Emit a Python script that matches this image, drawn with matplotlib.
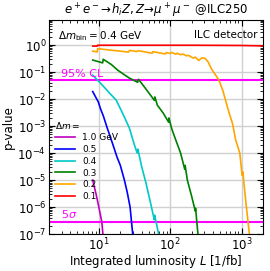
import matplotlib
matplotlib.use("Agg")
import matplotlib.pyplot as plt
import numpy as np

# p-value vs integrated luminosity, one curve per mass splitting
L_10 = [8.2, 9.2, 10.2, 11.0, 11.4]
p_10 = [1e-5, 2.8e-6, 7.6e-7, 2.8e-7, 1e-7]

L_05 = [8.2, 9.0, 9.8, 10.5, 11.4, 11.6, 13.0, 15.6, 18.0, 20.0, 22.8, 25.0, 27.4, 29.8]
p_05 = [0.019, 0.012, 8e-3, 4.5e-3, 2.6e-3, 2.3e-3, 9e-4, 2.2e-4, 7e-5, 3.5e-5, 1e-5, 3.5e-6, 1e-6, 1e-7]

L_04 = [8.2, 10, 12, 14, 17.5, 20.5, 24, 26.8, 31.5, 34.5, 35.2, 40, 45.8, 52, 59.8, 60.5, 64, 68.7]
p_04 = [0.077, 0.045, 0.027, 0.017, 9.2e-3, 3.9e-3, 1.6e-3, 8.4e-4, 2e-4, 1e-4, 1.4e-4, 3e-5, 7.7e-6,
        1.8e-6, 3.4e-7, 5e-7, 2.5e-7, 1e-7]

L_03 = [8.2, 11.3, 11.5, 15, 18.4, 22, 26.8, 35, 36, 45, 60, 61, 66, 80, 95, 96, 105, 120, 140,
        160, 162, 174, 200, 225, 227, 245]
p_03 = [0.28, 0.22, 0.30, 0.19, 0.118, 0.085, 0.06, 0.042, 0.054, 0.025, 9e-3, 0.012, 6e-3, 3e-3,
        1.4e-3, 2e-3, 8e-4, 3e-4, 1e-4, 2.5e-5, 3.5e-5, 1e-5, 2.5e-6, 7e-7, 9e-7, 1e-7]

L_02 = [8.2, 9.5, 9.6, 14, 20, 26, 27, 34, 35, 45, 56, 57, 70, 85, 88, 100, 105, 120, 125, 140,
        150, 170, 180, 210, 225, 250, 280, 310, 340, 380, 430, 483, 550, 650, 750, 830, 946, 1020,
        1050, 1070, 1170, 1290]
p_02 = [0.60, 0.56, 0.74, 0.66, 0.60, 0.55, 0.64, 0.58, 0.62, 0.56, 0.50, 0.57, 0.52, 0.47, 0.53,
        0.49, 0.54, 0.46, 0.50, 0.44, 0.47, 0.40, 0.42, 0.33, 0.36, 0.27, 0.34, 0.32, 0.24, 0.13,
        0.08, 0.05, 0.02, 4e-3, 1.2e-3, 3e-4, 1e-4, 1.5e-5, 2e-5, 1e-5, 1e-6, 1e-7]

L_01 = [8.2, 9.5, 9.6, 20, 50, 100, 200, 500, 1000, 2000]
p_01 = [0.92, 0.92, 0.99, 0.99, 0.99, 0.99, 0.99, 0.98, 0.97, 0.94]

p_cl95 = 0.05
p_5sigma = 2.87e-7

fig = plt.figure(figsize=(2.70, 2.71), dpi=100)
ax = fig.add_axes([0.1815, 0.1365, 0.7925, 0.7895])

ax.grid(True, which="major", color="#d0d0d0", lw=1.0, zorder=0)
ax.axhline(p_cl95, color="#ff00ff", lw=1.5, zorder=2)
ax.axhline(p_5sigma, color="#ff00ff", lw=1.5, zorder=2)

ax.plot(L_10, p_10, color="#c000c0", lw=1.2, label="1.0 GeV")
ax.plot(L_05, p_05, color="blue", lw=1.2, label="0.5")
ax.plot(L_04, p_04, color="#00c8c8", lw=1.2, label="0.4")
ax.plot(L_03, p_03, color="green", lw=1.2, label="0.3")
ax.plot(L_02, p_02, color="orange", lw=1.2, label="0.2")
ax.plot(L_01, p_01, color="red", lw=1.2, label="0.1")

ax.set_xscale("log")
ax.set_yscale("log")
ax.set_xlim(2, 2000)
ax.set_ylim(1e-7, 8.5)

ax.tick_params(which="both", direction="in", top=True, right=True, labelsize=8.5)
ax.tick_params(which="major", length=4, pad=2)
ax.tick_params(which="minor", length=2)

ax.set_title(r"$e^+e^-\!\to\! h_i Z, Z\!\to\!\mu^+\mu^-$ @ILC250", fontsize=8.5, pad=4)
ax.set_xlabel(r"Integrated luminosity $L$ [1/fb]", fontsize=8.5, labelpad=0)
ax.set_ylabel("p-value", fontsize=8.5, labelpad=2)

ax.text(0.04, 0.955, r"$\Delta m_{\rm bin} = 0.4$ GeV", transform=ax.transAxes,
        fontsize=7.5, va="top", ha="left")
ax.text(0.975, 0.955, "ILC detector", transform=ax.transAxes,
        fontsize=7.5, va="top", ha="right")
ax.text(2.9, p_cl95 * 1.15, "95% CL", color="#ff00ff", fontsize=8, va="bottom")
ax.text(2.9, p_5sigma * 1.15, r"$5\sigma$", color="#ff00ff", fontsize=8, va="bottom")

leg = ax.legend(loc="lower left", bbox_to_anchor=(0.0, 0.125), title=r"$\Delta m =$",
                fontsize=6.5, title_fontsize=6.5, frameon=False, handlelength=2.2,
                labelspacing=0.3, borderaxespad=0.3)
leg._legend_box.align = "left"

fig.savefig("out.png", dpi=100)
